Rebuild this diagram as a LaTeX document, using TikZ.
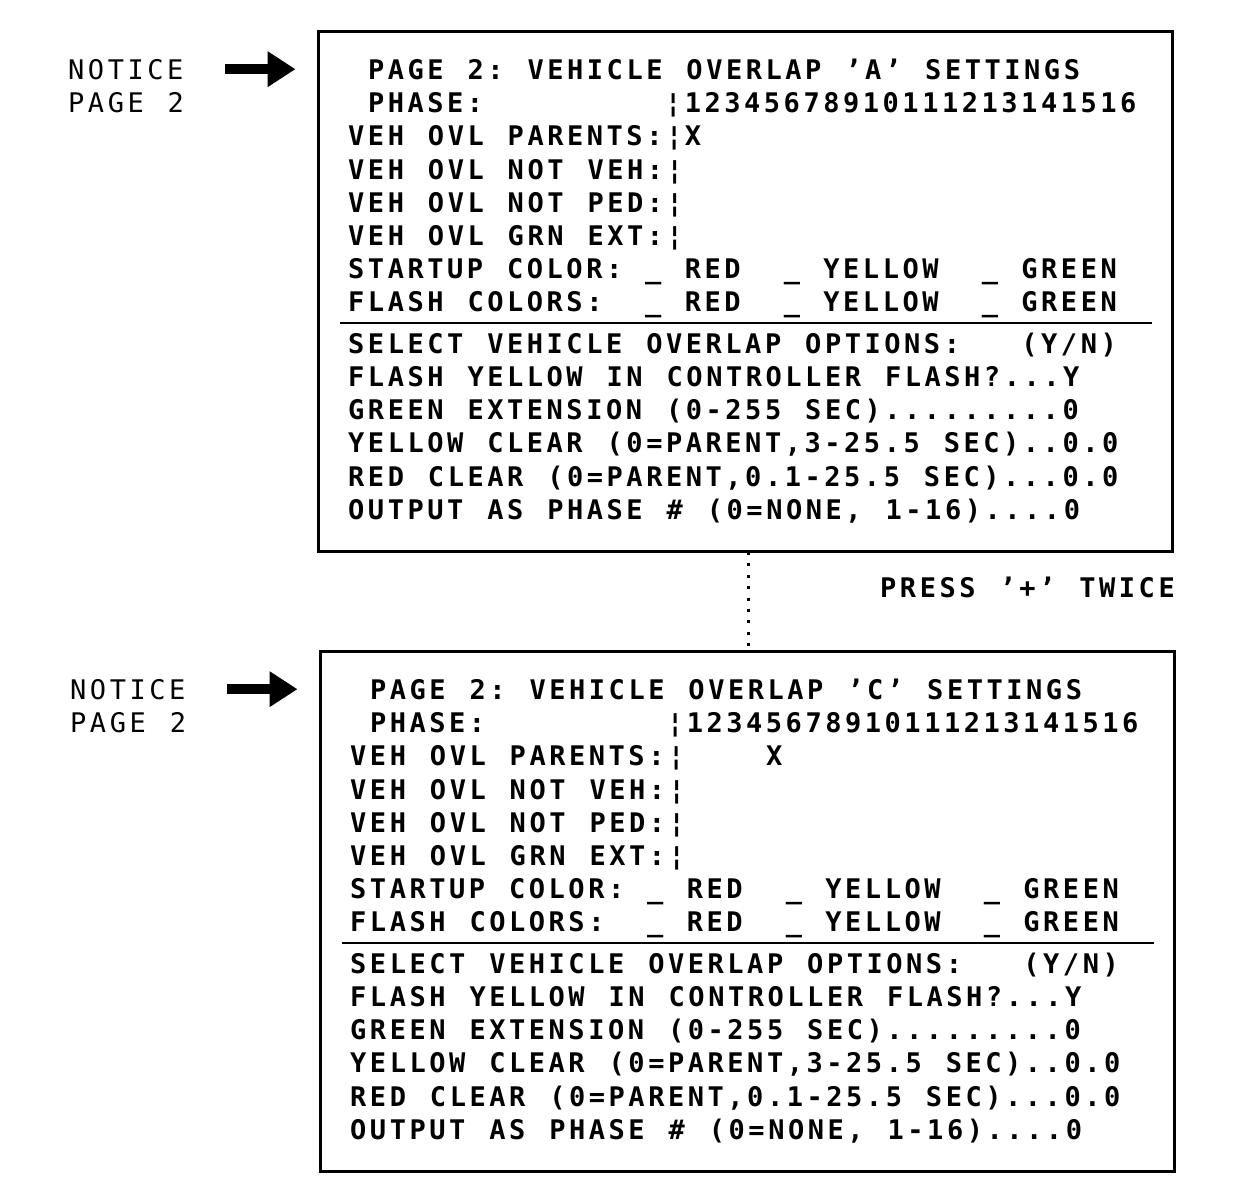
\documentclass[tikz,border=0pt]{standalone}
\usepackage{fontspec}
\usetikzlibrary{arrows.meta}
\newfontfamily\cadfont[LetterSpace=13.1,WordSpace={1.21,0,0}]{DejaVu Sans Mono}
\begin{document}
\begin{tikzpicture}
[x=1pt,y=-1pt,
  boxdecorate/.style={draw,line width=3pt,inner sep=0pt,minimum width=854pt,minimum height=520pt},%
  linedecorate/.style={-,line width=2.5pt},%
  dotdecorate/.style={-,line width=3pt,dash pattern=on 3pt off 8.4pt},%
  arrowdecorate/.style={-{Triangle[length=28pt,width=34pt]},line width=10pt,shorten <=41pt,shorten >=21pt},%
  textdecorate/.style={anchor=base west,inner sep=0pt,font={\cadfont\fontsize{27}{31}\selectfont\bfseries\frenchspacing}},%
  noticedecorate/.style={anchor=base west,inner sep=0pt,font={\cadfont\fontsize{27}{31}\selectfont\frenchspacing}}]
\useasboundingbox (0,0) rectangle (1242,1184);
%% the two overlap pages
\foreach \ovl/\dx/\dy/\parent in {A/0/0/0, C/2/620/4}
{
  \begin{scope}[shift={(\dx,\dy)}]
  \node (box\ovl) at (745,291) [boxdecorate] {};
  \node (notice\ovl) at (68,79) [noticedecorate] {NOTICE};
  \node (page\ovl) at (68,112) [noticedecorate] {PAGE 2};
  \draw[arrowdecorate] (notice\ovl.east) -- (notice\ovl.east -| box\ovl.west);
  \node (title\ovl) at (367.8,79) [textdecorate] {PAGE 2: VEHICLE OVERLAP ’\ovl’ SETTINGS};
  \node (phase\ovl) at (367.8,112) [textdecorate] {PHASE:};
  \node (digits\ovl) at (664.8,112) [textdecorate] {¦12345678910111213141516};
  \node (x\ovl) at (684.6+19.8*\parent,145) [textdecorate] {X};
  %% rows of the page
  \foreach \name/\y/\txt in {
    parents/145/{VEH OVL PARENTS:¦}, notveh/179/{VEH OVL NOT VEH:¦},
    notped/212/{VEH OVL NOT PED:¦}, grnext/245/{VEH OVL GRN EXT:¦},
    startup/278/{STARTUP COLOR:}, flash/311/{FLASH COLORS:},
    select/353/{SELECT VEHICLE OVERLAP OPTIONS:},
    flashy/386/{FLASH YELLOW IN CONTROLLER FLASH?...Y},
    green/419/{GREEN EXTENSION (0-255 SEC).........0},
    yellow/452/{YELLOW CLEAR (0=PARENT,3-25.5 SEC)..0.0},
    red/486/{RED CLEAR (0=PARENT,0.1-25.5 SEC)...0.0},
    output/519/{OUTPUT AS PHASE \# (0=NONE, 1-16)....0}}
  {
    \node (\name\ovl) at (348,\y) [textdecorate] {\txt};
  }
  %% colour choices
  \foreach \row/\y in {startup/278, flash/311}
    \foreach \col/\word in {15/\_, 17/RED, 22/\_, 24/YELLOW, 32/\_, 34/GREEN}
    {
      \node (\row\col\ovl) at (348+19.8*\col,\y) [textdecorate] {\word};
    }
  \node (yn\ovl) at (348+19.8*34,353) [textdecorate] {(Y/N)};
  \coordinate (ruleL\ovl) at (340,323);
  \coordinate (ruleR\ovl) at (1152,323);
  \draw[linedecorate] (ruleL\ovl) -- (ruleR\ovl);
  \end{scope}
}
%% link between the pages
\coordinate (dotA) at (748,552);
\coordinate (dotC) at (748,651);
\draw[dotdecorate] (dotA) -- (dotC);
\node (press) at (880,597) [textdecorate] {PRESS ’+’ TWICE};
\end{tikzpicture}
\end{document}
